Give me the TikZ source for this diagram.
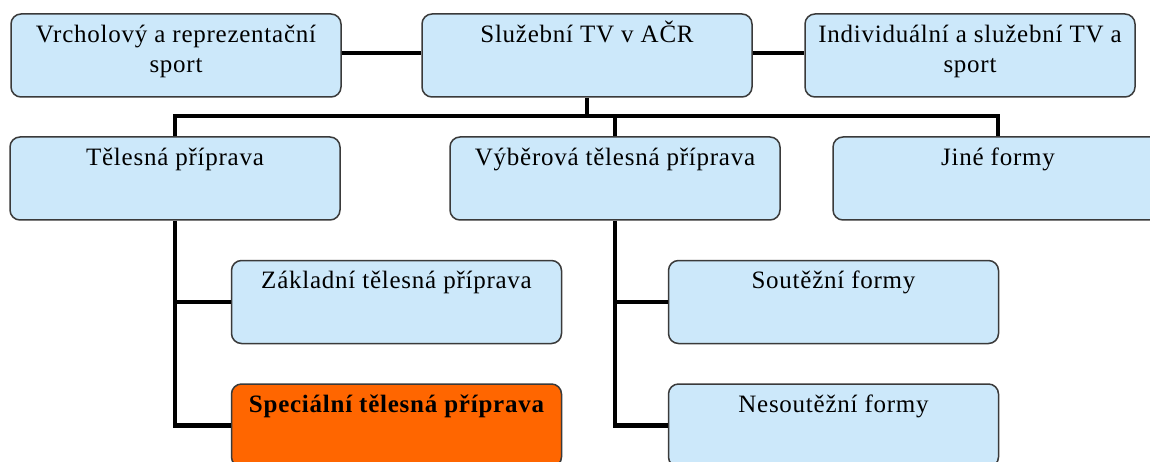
\documentclass[tikz,border=0pt]{standalone}
\usepackage{fontspec}
\setmainfont{Liberation Serif}[LetterSpace=3]
\newcommand\tstrut{\rule{0pt}{24pt}}
\definecolor{boxblue}{HTML}{CCE8FA}
\definecolor{boxorange}{HTML}{FF6600}
\definecolor{boxedge}{HTML}{3A3A3A}
\tikzset{
  x=1pt, y=1pt,
  boxshape/.style={draw=boxedge, line width=1.5pt, rounded corners=10pt, fill=boxblue,
    minimum width=330pt, minimum height=83pt, inner sep=0pt},
  hotbox/.style={boxshape, fill=boxorange},
  boxtext/.style={anchor=north, inner sep=0pt, align=center,
    font=\fontsize{25}{30}\selectfont, yshift=-5pt},
  conn/.style={line width=4.8pt, black},
}
\begin{document}
\begin{tikzpicture}
\clip (0,0) rectangle (1150,-462);
\fill[white] (0,0) rectangle (1150,-462);
% row 1
\node[boxshape] (vrch) at (176,-55.5) {};
\node[boxshape] (sluz) at (587,-55.5) {};
\node[boxshape] (indi) at (970,-55.5) {};
% row 2
\node[boxshape] (tel) at (175,-178.5) {};
\node[boxshape] (vyb) at (615,-178.5) {};
\node[boxshape] (jine) at (998,-178.5) {};
% row 3 / 4
\node[boxshape] (zakl) at (396.5,-302) {};
\node[boxshape] (sout) at (833.5,-302) {};
\node[hotbox] (spec) at (396.5,-425.5) {};
\node[boxshape] (neso) at (833.5,-425.5) {};
% texts
\node[boxtext] (vrcht) at (vrch.north) {\tstrut Vrcholový a reprezentační\\sport};
\node[boxtext] (sluzt) at (sluz.north) {\tstrut Služební TV v AČR};
\node[boxtext] (indit) at (indi.north) {\tstrut Individuální a služební TV a\\sport};
\node[boxtext] (telt) at (tel.north) {\tstrut Tělesná příprava};
\node[boxtext] (vybt) at (vyb.north) {\tstrut Výběrová tělesná příprava};
\node[boxtext] (jinet) at (jine.north) {\tstrut Jiné formy};
\node[boxtext] (zaklt) at (zakl.north) {\tstrut Základní tělesná příprava};
\node[boxtext] (soutt) at (sout.north) {\tstrut Soutěžní formy};
\node[boxtext, font=\fontsize{25}{30}\selectfont\bfseries] (spect) at (spec.north) {\tstrut Speciální tělesná příprava};
\node[boxtext] (nesot) at (neso.north) {\tstrut Nesoutěžní formy};
% connectors
\coordinate (busL) at (tel.north |- 0,-116);
\coordinate (busR) at (jine.north |- 0,-116);
\draw[conn] (vrch.east |- 0,-53) -- (sluz.west |- 0,-53);
\draw[conn] (sluz.east |- 0,-53) -- (indi.west |- 0,-53);
\draw[conn] (sluz.south) -- (sluz.south |- busL);
\draw[conn, line cap=rect] (busL) -- (busR);
\draw[conn] (busL) -- (tel.north);
\draw[conn] (vyb.north |- busL) -- (vyb.north);
\draw[conn] (busR) -- (jine.north);
\draw[conn] (tel.south) -- (tel.south |- spec.west) -- (spec.west);
\draw[conn] (tel.south |- zakl.west) -- (zakl.west);
\draw[conn] (vyb.south) -- (vyb.south |- neso.west) -- (neso.west);
\draw[conn] (vyb.south |- sout.west) -- (sout.west);
\end{tikzpicture}
\end{document}
